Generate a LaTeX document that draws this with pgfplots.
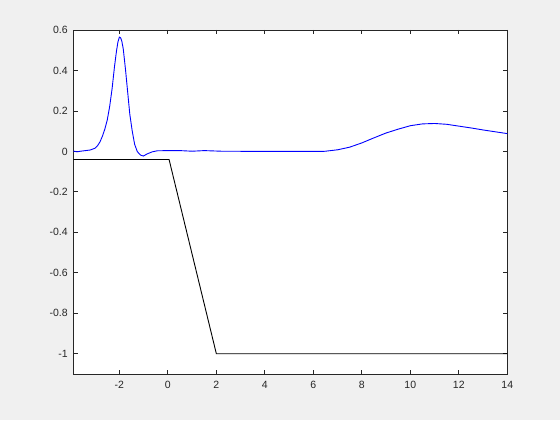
\documentclass[border=0pt]{standalone}
\usepackage{fontspec}
\setmainfont{Liberation Sans}
\usepackage{pgfplots}
\pgfplotsset{compat=1.18}
\definecolor{figbg}{RGB}{240,240,240}
\definecolor{axcol}{RGB}{38,38,38}
\begin{document}
\begin{tikzpicture}[x=1bp,y=1bp]
\fill[figbg] (0,0) rectangle (560,420);
\begin{axis}[
  at={(73.3bp,46bp)}, anchor=south west,
  scale only axis, width=434bp, height=344bp,
  xmin=-3.9, xmax=14, ymin=-1.1, ymax=0.6,
  xtick={-2,0,2,4,6,8,10,12,14},
  ytick={-1,-0.8,-0.6,-0.4,-0.2,0,0.2,0.4,0.6},
  yticklabels={-1,-0.8,-0.6,-0.4,-0.2,0,0.2,0.4,0.6},
  xticklabels={-2,0,2,4,6,8,10,12,14},
  tick align=inside, tick pos=both,
  major tick length=4.3bp,
  axis background/.style={fill=white},
  axis line style={draw=axcol, line width=0.8bp},
  every tick/.style={draw=axcol, line width=0.8bp},
  tick label style={font=\fontsize{10.5bp}{12bp}\selectfont, text=axcol},
  xticklabel style={yshift=-4.0bp},
  yticklabel style={xshift=-2.1bp},
  clip=true,
]
\addplot[black, line width=0.9bp] coordinates {
(-3.9,-0.04) (0.05,-0.04) (2.0,-1.0) (14,-1.0)
};
\addplot[blue, line width=0.9bp] coordinates {
(-3.9,0.002) (-3.75,-0.002) (-3.6,0.001) (-3.4,0.004) (-3.2,0.007)
(-3.0,0.016) (-2.9,0.028) (-2.8,0.047) (-2.7,0.075) (-2.6,0.110)
(-2.5,0.155) (-2.4,0.222) (-2.3,0.310) (-2.2,0.420) (-2.12,0.495)
(-2.06,0.540) (-2.0,0.565) (-1.95,0.562) (-1.9,0.545) (-1.84,0.507)
(-1.75,0.408) (-1.65,0.284) (-1.57,0.184) (-1.47,0.101) (-1.37,0.035)
(-1.26,-0.001) (-1.13,-0.018) (-1.01,-0.023) (-0.85,-0.012) (-0.64,-0.002)
(-0.44,0.003) (0,0.004) (0.5,0.004) (1.0,0.001) (1.5,0.004) (2.2,0.001)
(4,0.0) (6.4,0.0) (6.5,0.001) (7.0,0.008) (7.5,0.021) (8.0,0.042)
(8.5,0.067) (9.0,0.091) (9.5,0.110) (10.0,0.127) (10.5,0.136)
(11.0,0.138) (11.5,0.134) (12.0,0.125) (12.5,0.116) (13.0,0.106)
(13.5,0.097) (14.0,0.088)
};
\end{axis}
\end{tikzpicture}
\end{document}
